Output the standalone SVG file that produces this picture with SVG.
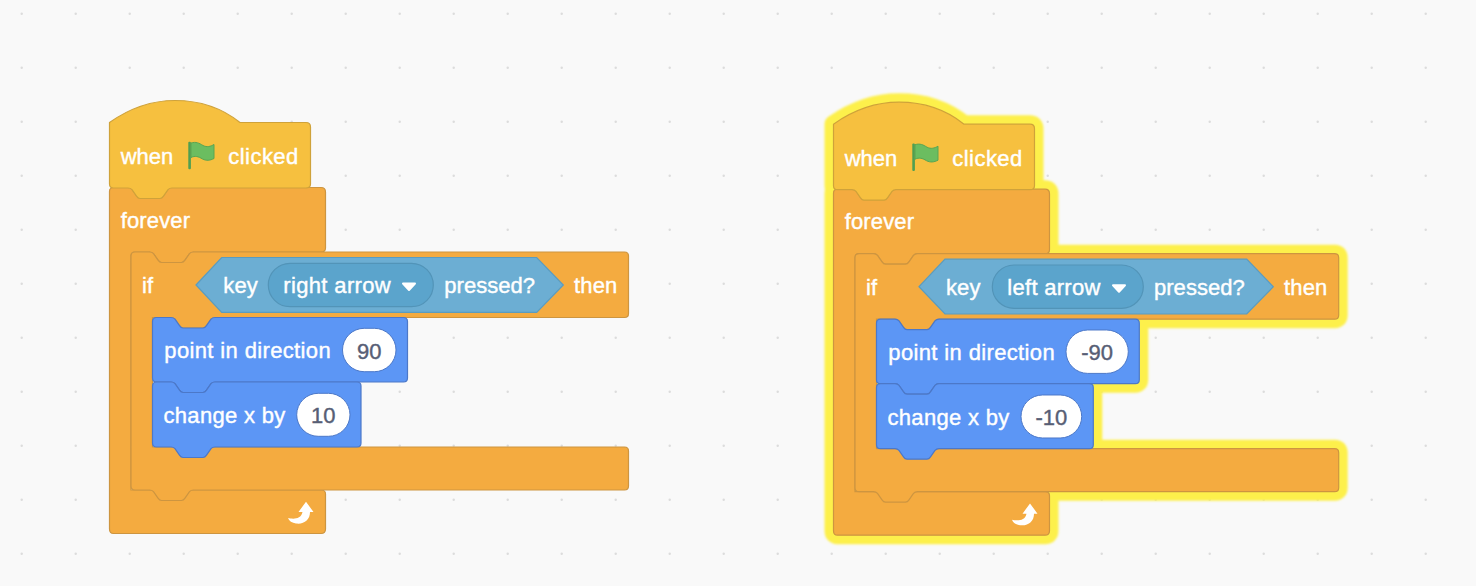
<svg xmlns="http://www.w3.org/2000/svg" width="1476" height="586" viewBox="0 0 1476 586">
<style>
text{font-family:"Liberation Sans",Arial,sans-serif;font-size:22px;fill:#fff;stroke:#fff;stroke-width:.4}
text.val{fill:#575e75;stroke:#575e75;stroke-width:.4;text-anchor:middle}
.hat{fill:#f6c03f;stroke:#cfa23a;stroke-width:1.2}
.org{fill:#f4ab40;stroke:#cd9540;stroke-width:1.2}
.blu{fill:#5c96f5;stroke:#4c78c8;stroke-width:1.2}
.hex{fill:#6caed3;stroke:#5a9cc0;stroke-width:1.2}
.dd{fill:#5ba4cc;stroke:#5294b8;stroke-width:1.2}
.oval{fill:#fff;stroke:#4c78c8;stroke-width:1}
.tri{fill:#fff;stroke:#fff;stroke-width:2;stroke-linejoin:round}
.fl{fill:#6bbd60;stroke:#5aa552;stroke-width:1}
.pole{fill:#4f9f52}
.glow use{fill:#fdf04c;stroke:#fdf04c;stroke-width:18;stroke-linejoin:round}
</style>
<defs>
<pattern id="dots" width="54" height="54" patternUnits="userSpaceOnUse"><circle cx="21.7" cy="13.7" r="1.2" fill="#dcdcdc"/></pattern>
<filter id="soft" x="-10%" y="-10%" width="120%" height="120%"><feGaussianBlur stdDeviation="1.3"/></filter>
<path id="p-hat" d="M109.5 122.5C130 108 152 100.5 175 100.5C200 100.5 222 108 240 122.5H306q4.500 0 4.500 4.500V184q0 4-4.500 4H172q-2.500 0-4 1.700l-4.500 6.500q-1.500 2.300-3.500 2.300h-20q-2 0-3.500-2.300l-4.500-6.500q-1.500-1.700-4-1.700H113.500q-4 0-4-4Z"/>
<path id="p-for" d="M109.500 191.500q0-4 4-4H128q2.500 0 4 1.700l4.500 6.500q1.500 2.300 3.500 2.300h20q2 0 3.500-2.300l4.500-6.500q1.500-1.700 4-1.700H321q4.500 0 4.500 4.500V248q0 4-4.500 4H193.500q-2.500 0-4 1.700l-4.500 6.500q-1.500 2.300-3.500 2.300h-20q-2 0-3.500-2.300l-4.500-6.500q-1.500-1.700-4-1.700H135q-4 0-4 4V490H321q4.500 0 4.500 4V529q0 4.500-4.500 4.500H113.500q-4 0-4-4.500Z"/>
<path id="p-if-l" d="M131 256q0-4 4-4H149.500q2.500 0 4 1.700l4.500 6.500q1.500 2.300 3.500 2.300h20q2 0 3.500-2.300l4.500-6.500q1.500-1.700 4-1.700H624.500q4 0 4 4V313.500q0 4-4 4H215q-2.500 0-4 1.700l-4.500 6.500q-1.500 2.300-3.500 2.300h-20q-2 0-3.500-2.300l-4.500-6.500q-1.500-1.700-4-1.700H152.500V447H624.500q4 0 4 4V486q0 4-4 4H193.500q-2.500 0-4 1.700l-4.500 6.500q-1.500 2.300-3.500 2.300h-20q-2 0-3.500-2.300l-4.500-6.500q-1.500-1.700-4-1.700H135q-4 0-4-4Z"/>
<path id="p-if-r" d="M131 256q0-4 4-4H149.500q2.500 0 4 1.700l4.500 6.500q1.500 2.300 3.500 2.300h20q2 0 3.500-2.300l4.500-6.500q1.500-1.700 4-1.700H610.700q4 0 4 4V313.500q0 4-4 4H215q-2.500 0-4 1.700l-4.500 6.500q-1.500 2.300-3.500 2.300h-20q-2 0-3.500-2.300l-4.500-6.500q-1.500-1.700-4-1.700H152.500V447H610.700q4 0 4 4V486q0 4-4 4H193.500q-2.500 0-4 1.700l-4.500 6.500q-1.500 2.300-3.500 2.300h-20q-2 0-3.500-2.300l-4.500-6.500q-1.500-1.700-4-1.700H135q-4 0-4-4Z"/>
<path id="p-b1-l" d="M152.500 321.500q0-4 4-4H171q2.500 0 4 1.700l4.500 6.500q1.500 2.300 3.500 2.300h20q2 0 3.500-2.300l4.500-6.500q1.500-1.700 4-1.700H403.500q4 0 4 4V378q0 4-4 4H215q-2.500 0-4 1.700l-4.500 6.500q-1.500 2.300-3.500 2.300h-20q-2 0-3.500-2.300l-4.500-6.500q-1.500-1.700-4-1.700H156.500q-4 0-4-4Z"/>
<path id="p-b2-l" d="M152.500 386q0-4 4-4H171q2.500 0 4 1.700l4.500 6.500q1.500 2.300 3.500 2.300h20q2 0 3.500-2.300l4.500-6.500q1.500-1.700 4-1.700H357q4 0 4 4V443q0 4-4 4H215q-2.500 0-4 1.700l-4.500 6.500q-1.500 2.300-3.500 2.300h-20q-2 0-3.500-2.300l-4.500-6.500q-1.500-1.700-4-1.700H156.500q-4 0-4-4Z"/>
<path id="p-b1-r" d="M152.500 321.500q0-4 4-4H171q2.500 0 4 1.700l4.500 6.500q1.500 2.300 3.500 2.300h20q2 0 3.500-2.300l4.500-6.500q1.500-1.700 4-1.700H411.300q4 0 4 4V378q0 4-4 4H215q-2.500 0-4 1.700l-4.500 6.500q-1.500 2.300-3.500 2.300h-20q-2 0-3.500-2.300l-4.500-6.500q-1.500-1.700-4-1.700H156.500q-4 0-4-4Z"/>
<path id="p-b2-r" d="M152.500 386q0-4 4-4H171q2.500 0 4 1.700l4.500 6.500q1.500 2.300 3.500 2.300h20q2 0 3.500-2.300l4.500-6.500q1.500-1.700 4-1.700H365.300q4 0 4 4V443q0 4-4 4H215q-2.500 0-4 1.700l-4.500 6.500q-1.500 2.300-3.500 2.300h-20q-2 0-3.500-2.300l-4.500-6.500q-1.500-1.700-4-1.700H156.500q-4 0-4-4Z"/>
<g id="flag">
<rect class="pole" x="188.300" y="141.700" width="2.600" height="27.500" rx="1"/>
<path class="fl" d="M191 143C196 141.500 199 143 203 145.500C207 147.500 210.500 146.500 214 144.500V158.500C210 160.500 206.500 161 202.500 159C198.500 156.500 195 155.500 191 157.500Z"/>
</g>
<path id="loop" d="M306 501.700L313.500 512H310C310 520 304 524.500 296 523.500C292 523 289 521 288 518C292 519 301 520 302.500 512H298.500Z" fill="#fff"/>
</defs>
<rect id="background" width="1476" height="586" fill="#f9f9f9"/>
<rect id="grid" width="1476" height="586" fill="url(#dots)"/>

<g id="left-script">
<g id="l-forever"><use href="#p-for" class="org"/><text x="120.700" y="227.700" textLength="69.300">forever</text><use href="#loop"/></g>
<g id="l-if"><use href="#p-if-l" class="org"/>
<text x="142" y="293">if</text><text x="574" y="293" textLength="43.300">then</text></g>
<g id="l-hat"><use href="#p-hat" class="hat"/><text x="120.700" y="164" textLength="52.600">when</text><use href="#flag"/><text x="228.300" y="164" textLength="70">clicked</text></g>
<g id="l-key">
<path class="hex" d="M196 285L221.700 257.500H536.700L563.300 285L536.700 312.300H221.700Z"/>
<text x="223.300" y="293" textLength="34.400">key</text>
<rect class="dd" x="268.300" y="263.300" width="165" height="43.400" rx="21.700"/>
<text x="283.300" y="293" textLength="107.400">right arrow</text>
<path class="tri" d="M403 283.500h12l-6 6.500Z"/>
<text x="444.300" y="293" textLength="90.700">pressed?</text>
</g>
<g id="l-point"><use href="#p-b1-l" class="blu"/>
<text x="164.300" y="358" textLength="166.400">point in direction</text>
<rect class="oval" x="342.500" y="328.300" width="53.500" height="43.400" rx="21.700"/>
<text class="val" x="369.200" y="358.500">90</text></g>
<g id="l-change"><use href="#p-b2-l" class="blu"/>
<text x="163.500" y="423" textLength="121.700">change x by</text>
<rect class="oval" x="296.700" y="393.300" width="53.300" height="43" rx="21.500"/>
<text class="val" x="323.300" y="423">10</text></g>
</g>

<g id="right-script" transform="translate(724 1.700)">
<g id="r-glow" class="glow" filter="url(#soft)"><use href="#p-hat"/><use href="#p-for"/><use href="#p-if-r"/><use href="#p-b1-r"/><use href="#p-b2-r"/></g>
<g id="r-forever"><use href="#p-for" class="org"/><text x="120.700" y="227.700" textLength="69.300">forever</text><use href="#loop"/></g>
<g id="r-if"><use href="#p-if-r" class="org"/><text x="142" y="293">if</text><text x="560" y="293" textLength="43.300">then</text></g>
<g id="r-hat"><use href="#p-hat" class="hat"/><text x="120.700" y="164" textLength="52.600">when</text><use href="#flag"/><text x="228.300" y="164" textLength="70">clicked</text></g>
<g id="r-key">
<path class="hex" d="M195 285L221 257.500H522.700L549.300 285L522.700 312.300H221Z"/>
<text x="222" y="293" textLength="34.400">key</text>
<rect class="dd" x="268.300" y="263.300" width="151" height="43.400" rx="21.700"/>
<text x="283.300" y="293" textLength="93">left arrow</text>
<path class="tri" d="M389 283.500h12l-6 6.500Z"/>
<text x="430" y="293" textLength="90.700">pressed?</text>
</g>
<g id="r-point"><use href="#p-b1-r" class="blu"/><text x="164.300" y="358" textLength="166.400">point in direction</text>
<rect class="oval" x="342" y="328.300" width="62.300" height="43.400" rx="21.700"/>
<text class="val" x="373.200" y="358.500">-90</text></g>
<g id="r-change"><use href="#p-b2-r" class="blu"/><text x="163.500" y="423" textLength="121.700">change x by</text>
<rect class="oval" x="297" y="393.300" width="60.700" height="43" rx="21.500"/>
<text class="val" x="327.300" y="423">-10</text></g>
</g>
</svg>
